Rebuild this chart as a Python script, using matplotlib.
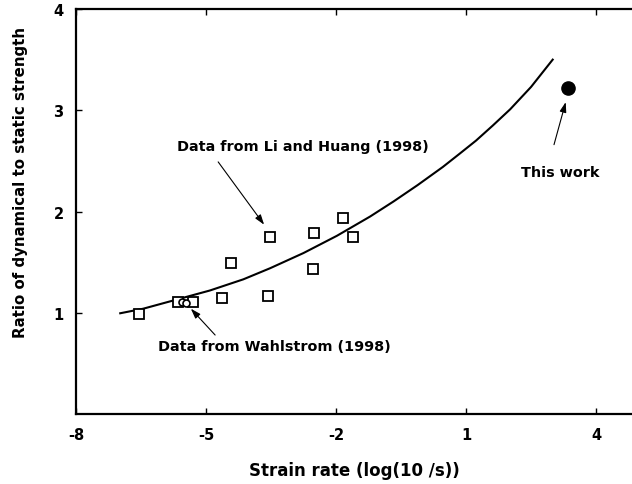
import matplotlib
matplotlib.use("Agg")
import matplotlib.pyplot as plt

plt.rcParams['font.family'] = ['DejaVu Sans']
plt.rcParams['font.weight'] = 'bold'
plt.rcParams['axes.unicode_minus'] = False

# Li and Huang (1998) data, squares
li_x = [-6.55, -5.64, -5.29, -4.62, -4.43, -3.56, -3.52, -2.54, -2.50, -1.85, -1.61]
li_y = [0.99, 1.11, 1.11, 1.15, 1.49, 1.17, 1.745, 1.43, 1.79, 1.94, 1.745]

# Wahlstrom (1998) data, open circles
wa_x = [-5.56, -5.47]
wa_y = [1.11, 1.10]

# this work, filled circle
tw_x = [3.36]
tw_y = [3.22]

# fitted curve
fit_x = [-6.98, -6.45, -5.68, -4.91, -4.14, -3.52, -2.75, -1.98, -1.215, -0.67,
         -0.12, 0.465, 0.85, 1.23, 1.62, 2.02, 2.5, 3.0]
fit_y = [0.995, 1.04, 1.13, 1.22, 1.33, 1.44, 1.59, 1.76, 1.95, 2.10,
         2.26, 2.44, 2.57, 2.70, 2.85, 3.01, 3.23, 3.50]

x_ticks = [-8, -5, -2, 1, 4]
y_ticks = [1, 2, 3, 4]

fig = plt.figure(figsize=(6.32, 4.85), dpi=100)
ax = fig.add_axes([0.1203, 0.1443, 0.8797, 0.8351])

ax.plot(fit_x, fit_y, color='black', lw=1.5)
ax.plot(li_x, li_y, 's', ms=7.5, mfc='white', mec='black', mew=1.3, ls='none')
ax.plot(wa_x, wa_y, 'o', ms=5, mfc='white', mec='black', mew=1.2, ls='none')
ax.plot(tw_x, tw_y, 'o', ms=9.5, color='black', ls='none')

arrow = dict(arrowstyle='-|>,head_length=0.6,head_width=0.2', color='black', lw=0.8,
             shrinkA=0, shrinkB=0)
ax.annotate('', xy=(-3.66, 1.87), xytext=(-4.72, 2.49), arrowprops=arrow)
ax.annotate('', xy=(3.30, 3.08), xytext=(3.03, 2.66), arrowprops=arrow)
ax.annotate('', xy=(-5.35, 1.04), xytext=(-4.79, 0.78), arrowprops=arrow)

ax.text(-5.67, 2.65, 'Data from Li and Huang (1998)', fontsize=10.4, fontweight='bold',
        ha='left', va='center')
ax.text(3.17, 2.39, 'This work', fontsize=10.4, fontweight='bold', ha='center', va='center')
ax.text(-6.11, 0.67, 'Data from Wahlstrom (1998)', fontsize=10.4, fontweight='bold',
        ha='left', va='center')

ax.set_xlim(-8, 4.83)
ax.set_ylim(0, 4)
ax.set_xticks(x_ticks)
ax.set_yticks(y_ticks)
ax.tick_params(direction='in', length=4, width=1, top=True, labelsize=10.5, pad=9)
for lab in ax.get_xticklabels() + ax.get_yticklabels():
    lab.set_fontweight('bold')

ax.spines['right'].set_visible(False)
for s in ['left', 'bottom', 'top']:
    ax.spines[s].set_linewidth(1.6)

ax.set_xlabel('Strain rate (log(10 /s))', fontsize=12, fontweight='bold', labelpad=14)
ax.set_ylabel('Ratio of dynamical to static strength', fontsize=10.8, fontweight='bold')
ax.yaxis.set_label_coords(-0.086, 0.575)

fig.savefig('out.png', dpi=100)
